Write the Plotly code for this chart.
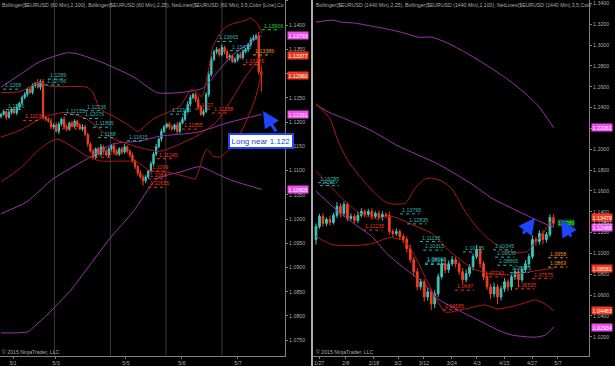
import plotly.graph_objects as go

W, H = 615, 366
FONT = "Liberation Sans"

# ---------------- LEFT PANEL (60 Min) ----------------
left_first_open = 1.1212
left_close = [1.1216, 1.1222, 1.1210, 1.1220, 1.1227, 1.1219, 1.1231, 1.1239,
              1.1251, 1.1257, 1.1268, 1.1261, 1.1276, 1.1280, 1.1272, 1.1284,
              1.1210, 1.1206,
              1.1202, 1.1190, 1.1194, 1.1181, 1.1196, 1.1206, 1.1190, 1.1186, 1.1198, 1.1192, 1.1202, 1.1194, 1.1186, 1.1190,
              1.1175, 1.1155, 1.1140, 1.1128, 1.1145, 1.1134,
              1.1149, 1.1140, 1.1132, 1.1145, 1.1151, 1.1140, 1.1134, 1.1145, 1.1138, 1.1149, 1.1140, 1.1132,
              1.1120, 1.1108, 1.1095, 1.1087,
              1.1079, 1.1087, 1.1099,
              1.1114, 1.1134, 1.1149, 1.1165, 1.1181, 1.1190, 1.1196,
              1.1190, 1.1186, 1.1194, 1.1181, 1.1198, 1.1206,
              1.1222, 1.1237, 1.1251, 1.1257, 1.1247,
              1.1231, 1.1216, 1.1222,
              1.1257, 1.1298, 1.1329, 1.1345,
              1.1350, 1.1339, 1.1354, 1.1345, 1.1333, 1.1337, 1.1325, 1.1329, 1.1339, 1.1333, 1.1345, 1.1350,
              1.1360, 1.1370, 1.1374, 1.1378,
              1.1304, 1.1296]
left_up_wick = [3, 4, 2, 5, 3, 4, 6, 3, 4, 5, 3, 6, 4, 3, 9, 4, 5, 3, 4, 6, 3, 5, 4, 3, 6, 4, 3, 5, 4, 3,
                4, 6, 5, 3, 4, 5, 3, 4, 6, 3, 5, 4, 3, 4, 5, 3, 4, 6, 3, 4,
                5, 3, 4, 6, 5, 4, 3, 5, 4, 6, 3, 5, 4, 3, 4, 5, 3, 6, 4, 5,
                4, 6, 5, 3, 4, 6, 5, 4, 5, 8, 6, 4, 5, 3, 6, 4, 5, 4, 3, 5,
                4, 6, 5, 3, 4, 5, 6, 4, 8, 11]
left_dn_wick = [4, 3, 5, 3, 4, 3, 5, 4, 3, 4, 5, 3, 4, 5, 3, 6, 5, 4, 3, 5, 4, 3, 6, 4, 3, 5, 4, 3, 4, 5,
                3, 5, 4, 6, 3, 5, 4, 3, 5, 4, 3, 5, 4, 6, 3, 4, 5, 3, 4, 5,
                4, 5, 6, 4, 10, 5, 4, 3, 5, 4, 3, 5, 4, 3, 5, 4, 3, 5, 4, 3,
                4, 3, 5, 4, 6, 5, 3, 4, 3, 5, 4, 3, 5, 4, 3, 5, 4, 6, 3, 4,
                5, 3, 4, 3, 5, 4, 3, 5, 6, 33]

# Bollinger (60 Min, 2, 25) - dark red
l_bb25_up_x = [0, 7.2, 14.8, 18.6, 32.7, 35.0, 37.6, 41.4, 47.9, 52.1, 57.8, 68.1, 72.6, 76.4, 78.7, 80.6, 84.4, 87.1, 93.5, 94.7, 97.3, 99.2]
l_bb25_up_y = [1.1261, 1.1263, 1.1282, 1.1274, 1.1272, 1.1261, 1.1227, 1.1216, 1.1196, 1.1181, 1.1206, 1.1233, 1.1268, 1.1253, 1.1302, 1.1356, 1.1391, 1.1401, 1.1411, 1.1415, 1.1405, 1.1384]
l_bb25_mid_x = [0, 7.2, 16.0, 24.3, 32.7, 41.4, 51.7, 60.5, 68.1, 75.7, 82.1, 87.1, 92.8, 99.2]
l_bb25_mid_y = [1.1169, 1.1183, 1.1210, 1.1220, 1.1206, 1.1169, 1.1149, 1.1140, 1.1155, 1.1175, 1.1202, 1.1241, 1.1292, 1.1338]
l_bb25_lo_x = [0, 7.2, 14.8, 21.3, 32.7, 37.6, 51.7, 56.7, 63.1, 70.7, 73.8, 76.8, 78.3, 80.6, 83.3, 88.2, 92.8, 96.6, 99.2]
l_bb25_lo_y = [1.1077, 1.1104, 1.1145, 1.1165, 1.1130, 1.1120, 1.1118, 1.1099, 1.1097, 1.1087, 1.1083, 1.1128, 1.1145, 1.1130, 1.1128, 1.1151, 1.1196, 1.1247, 1.1304]
# Bollinger (60 Min, 2, 100) - purple
l_bb100_up_x = [0, 7.2, 14.8, 25.1, 28.9, 37.6, 50.2, 59.3, 68.1, 76.8, 82.1, 88.2, 99.2]
l_bb100_up_y = [1.1272, 1.1298, 1.1325, 1.1343, 1.1341, 1.1325, 1.1294, 1.1261, 1.1261, 1.1270, 1.1302, 1.1339, 1.1379]
l_bb100_mid_x = [0, 9.9, 19.8, 32.7, 42.6, 52.9, 60.5, 74.5, 87.1, 99.2]
l_bb100_mid_y = [1.1011, 1.1036, 1.1083, 1.1124, 1.1155, 1.1161, 1.1171, 1.1179, 1.1200, 1.1216]
l_bb100_lo_x = [0, 10.1, 12.2, 17.5, 21.3, 26.2, 33.8, 41.4, 50.2, 59.3, 68.1, 75.7, 82.1, 88.2, 99.2]
l_bb100_lo_y = [1.0765, 1.0767, 1.0776, 1.0802, 1.0823, 1.0851, 1.0905, 1.0960, 1.1015, 1.1083, 1.1097, 1.1108, 1.1093, 1.1079, 1.1061]

left_tick_pos = [4.6, 20.9, 47.5, 68.8, 90.1]
left_tick_text = ["5/1", "5/3", "5/5", "5/6", "5/7"]
left_session_lines = [20.3, 41.6, 62.7, 84.0]
left_x_range = [-0.38, 108.0]
left_y_range = [1.0718, 1.1452]
left_y_ticks = [1.075, 1.080, 1.085, 1.090, 1.095, 1.100, 1.105, 1.110, 1.115, 1.120, 1.125, 1.130, 1.135, 1.140, 1.145]

# NetLines labels: (start bar, text, colour key)
left_labels = [(0.8, "1.1268", "c"), (1.9, "1.1226", "c"), (17.9, "1.1289", "c"), (16.7, "1.12766", "c"),
               (24.0, "1.12155", "c"), (31.9, "1.12236", "c"), (31.2, "1.12076", "c"), (35.0, "1.11895", "c"),
               (36.9, "1.1168", "c"), (47.9, "1.11615", "c"), (64.3, "1.12165", "c"), (82.1, "1.13665", "c"),
               (87.1, "1.13475", "c"), (99.2, "1.13906", "g"),
               (8.4, "1.12035", "r"), (23.2, "1.1186", "r"), (35.7, "1.11275", "r"), (59.3, "1.11245", "r"),
               (56.7, "1.1099", "r"), (55.9, "1.1083", "r"), (55.9, "1.10655", "r"), (68.8, "1.11855", "r"),
               (73.8, "1.1227", "r"), (80.2, "1.12188", "r"), (92.0, "1.13185", "r"), (95.8, "1.13386", "o")]
left_axis_boxes = [("1.13793", "p"), ("1.13377", "r"), ("1.12960", "r"), ("1.12161", "p"), ("1.10605", "p")]

# ---------------- RIGHT PANEL (1440 Min) ----------------
right_first_open = 1.1133
right_close = [1.1258, 1.1355, 1.1288, 1.1326, 1.1297, 1.1365, 1.1452, 1.1384, 1.1471, 1.1336,
               1.1355, 1.1316, 1.1365, 1.1403, 1.1374, 1.1403, 1.1355, 1.1384, 1.1345, 1.1374,
               1.1365, 1.1210, 1.1191, 1.1210, 1.1162, 1.1133, 1.1046, 1.0940, 1.0824, 1.0679,
               1.0727, 1.0582, 1.0631, 1.0515, 1.0611, 1.0776, 1.0901, 1.0843, 1.0901, 1.0940,
               1.0901, 1.0824, 1.0747, 1.0805, 1.0872, 1.0969, 1.1036, 1.0901, 1.0776, 1.0679,
               1.0611, 1.0679, 1.0582, 1.0660, 1.0727, 1.0679, 1.0776, 1.0824, 1.0747, 1.0843,
               1.0901, 1.0969, 1.1133, 1.1114, 1.1191, 1.1133, 1.1181, 1.1345, 1.1289]
right_up_wick = [30, 25, 30, 20, 35, 25, 40, 30, 25, 20, 30, 25, 35, 30, 20, 25, 30, 20, 25, 30,
                 20, 35, 25, 30, 20, 25, 30, 40, 25, 35, 30, 25, 40, 30, 35, 30, 45, 25, 30, 35,
                 30, 25, 35, 40, 25, 30, 45, 30, 25, 35, 30, 40, 25, 30, 35, 25, 30, 40, 25, 30,
                 35, 30, 40, 25, 30, 35, 25, 30, 30]
right_dn_wick = [50, 20, 30, 25, 30, 20, 25, 35, 30, 25, 20, 30, 25, 20, 30, 25, 30, 20, 25, 30,
                 25, 30, 35, 25, 30, 35, 40, 30, 45, 35, 30, 45, 35, 60, 40, 30, 25, 35, 30, 25,
                 35, 30, 40, 25, 30, 35, 25, 40, 35, 30, 45, 30, 70, 35, 30, 40, 35, 30, 70, 25,
                 30, 35, 25, 40, 30, 45, 30, 25, 35]

r_bb25_up_x = [0, 4.0, 6.3, 9.2, 13.2, 16.9, 20.6, 25.5, 28.4, 31.2, 33.2, 36.1, 39.0, 42.7, 46.4, 50.4, 55.6, 60.5, 62.2, 64.8, 68.1]
r_bb25_up_y = [1.2437, 1.2292, 1.2080, 1.1886, 1.1713, 1.1577, 1.1481, 1.1481, 1.1626, 1.1713, 1.1722, 1.1693, 1.1616, 1.1403, 1.1239, 1.1114, 1.1017, 1.1017, 1.1085, 1.1181, 1.1348]
r_bb25_mid_x = [0, 4.0, 8.3, 12.6, 16.9, 21.8, 27.5, 33.2, 38.4, 45.0, 49.9, 55.6, 61.3, 68.1]
r_bb25_mid_y = [1.1790, 1.1645, 1.1500, 1.1384, 1.1336, 1.1355, 1.1278, 1.1191, 1.1017, 1.0853, 1.0805, 1.0795, 1.0824, 1.0858]
r_bb25_lo_x = [0, 4.6, 11.2, 16.0, 21.2, 25.5, 28.4, 31.2, 34.1, 37.0, 42.7, 48.4, 52.1, 57.9, 62.8, 65.6, 68.1]
r_bb25_lo_y = [1.1162, 1.1085, 1.1075, 1.1094, 1.1152, 1.1114, 1.0969, 1.0776, 1.0582, 1.0437, 1.0466, 1.0505, 1.0466, 1.0505, 1.0553, 1.0515, 1.0448]
r_bb100_up_x = [0, 4.6, 7.4, 11.2, 16.0, 20.6, 25.5, 29.2, 33.2, 37.8, 42.7, 47.6, 54.2, 59.0, 63.6, 68.1]
r_bb100_up_y = [1.3219, 1.3239, 1.3219, 1.3210, 1.3181, 1.3152, 1.3113, 1.3075, 1.3075, 1.3017, 1.2930, 1.2833, 1.2688, 1.2563, 1.2418, 1.2206]
r_bb100_mid_x = [0, 4.0, 8.3, 16.0, 23.5, 35.0, 44.7, 50.4, 56.2, 62.8, 68.1]
r_bb100_mid_y = [1.2427, 1.2350, 1.2292, 1.2176, 1.2031, 1.1857, 1.1664, 1.1529, 1.1432, 1.1326, 1.1249]
r_bb100_lo_x = [0, 6.3, 11.2, 16.0, 20.6, 25.5, 30.4, 35.0, 41.8, 47.6, 52.1, 56.2, 62.8, 65.6, 68.1]
r_bb100_lo_y = [1.1597, 1.1403, 1.1278, 1.1162, 1.0988, 1.0853, 1.0727, 1.0563, 1.0437, 1.0341, 1.0264, 1.0215, 1.0196, 1.0215, 1.0293]

right_tick_pos = [0.9, 8.5, 16.6, 23.5, 30.9, 38.9, 46.1, 53.9, 61.9, 69.3]
right_tick_text = ["1/27", "2/8", "2/18", "3/2", "3/12", "3/24", "4/3", "4/15", "4/27", "5/7"]
right_x_range = [-0.86, 78.2]
right_y_range = [1.0018, 1.3432]
right_y_ticks = [1.02, 1.04, 1.06, 1.08, 1.10, 1.12, 1.14, 1.16, 1.18, 1.20, 1.22, 1.24, 1.26, 1.28, 1.30, 1.32, 1.34]

right_labels = [(0.6, "1.16785", "c"), (1.1, "1.165", "c"), (24.1, "1.13795", "c"), (13.5, "1.12235", "r"),
                (26.1, "1.12835", "c"), (29.8, "1.11135", "c"), (30.7, "1.10315", "c"), (31.2, "1.09066", "c"),
                (31.2, "1.08944", "c"), (42.1, "1.10135", "c"), (50.7, "1.10345", "c"), (51.3, "1.09636", "c"),
                (51.9, "1.08865", "c"), (55.6, "1.08175", "c"),
                (39.8, "1.0647", "r"), (36.4, "1.04585", "r"), (57.0, "1.06595", "r"), (61.9, "1.07575", "r"),
                (47.9, "1.07743", "r"), (66.5, "1.0958", "o"), (66.5, "1.0869", "o")]
right_axis_boxes = [("1.22061", "p"), ("1.13479", "r"), ("1.12488", "p"), ("1.08581", "r"), ("1.04483", "r"), ("1.02934", "p")]
right_last_tag = "1.1289"

# ---------------- styles ----------------
UP = "#3cc6bf"
DN = "#f2401e"
BB25 = "#b3161a"
BB100 = "#a12fb0"
GRAY = "#aaaaaa"
LABEL_COL = {"c": "#2fb3ab", "r": "#f0341c", "o": "#f09018", "g": "#28d428"}
BOX_COL = {"p": "#f04cf0", "r": "#f0381c"}

L_DOM = [0, 285 / W]
R_DOM = [313 / W, 589 / W]
Y_DOM = [10.3 / H, 1]


def ohlc(first_open, closes, up, dn):
    opens = [first_open] + closes[:-1]
    highs = [max(o, c) + u * 0.0001 for o, c, u in zip(opens, closes, up)]
    lows = [min(o, c) - d * 0.0001 for o, c, d in zip(opens, closes, dn)]
    return opens, highs, lows


fig = go.Figure()


def add_bands(xa, ya, bands):
    for xs, ys, col in bands:
        fig.add_trace(go.Scatter(x=xs, y=ys, mode="lines", line=dict(color=col, width=1, shape="spline", smoothing=0.6),
                                 xaxis=xa, yaxis=ya, hoverinfo="skip", showlegend=False))


add_bands("x", "y", [(l_bb100_up_x, l_bb100_up_y, BB100), (l_bb100_mid_x, l_bb100_mid_y, BB100),
                     (l_bb100_lo_x, l_bb100_lo_y, BB100), (l_bb25_up_x, l_bb25_up_y, BB25),
                     (l_bb25_mid_x, l_bb25_mid_y, BB25), (l_bb25_lo_x, l_bb25_lo_y, BB25)])
add_bands("x2", "y2", [(r_bb100_up_x, r_bb100_up_y, BB100), (r_bb100_mid_x, r_bb100_mid_y, BB100),
                       (r_bb100_lo_x, r_bb100_lo_y, BB100), (r_bb25_up_x, r_bb25_up_y, BB25),
                       (r_bb25_mid_x, r_bb25_mid_y, BB25), (r_bb25_lo_x, r_bb25_lo_y, BB25)])

lo, lh, ll = ohlc(left_first_open, left_close, left_up_wick, left_dn_wick)
fig.add_trace(go.Candlestick(x=list(range(len(left_close))), open=lo, high=lh, low=ll, close=left_close,
                             increasing=dict(line=dict(color=UP, width=1), fillcolor=UP),
                             decreasing=dict(line=dict(color=DN, width=1), fillcolor=DN),
                             whiskerwidth=0, xaxis="x", yaxis="y", showlegend=False, hoverinfo="skip"))
ro, rh, rl = ohlc(right_first_open, right_close, right_up_wick, right_dn_wick)
fig.add_trace(go.Candlestick(x=list(range(len(right_close))), open=ro, high=rh, low=rl, close=right_close,
                             increasing=dict(line=dict(color=UP, width=1), fillcolor=UP),
                             decreasing=dict(line=dict(color=DN, width=1), fillcolor=DN),
                             whiskerwidth=0, xaxis="x2", yaxis="y2", showlegend=False, hoverinfo="skip"))

annotations = []


def add_netlines(labels, xa, ya, seg_len):
    groups = {}
    for bar, txt, ck in labels:
        p = float(txt)
        g = groups.setdefault(ck, ([], []))
        g[0].extend([bar, bar + seg_len, None])
        g[1].extend([p, p, None])
        annotations.append(dict(x=bar, y=p, xref=xa, yref=ya, text=txt, showarrow=False, xanchor="left",
                                yanchor="bottom", yshift=-1, font=dict(size=5.3, color=LABEL_COL[ck], family=FONT)))
    for ck, (xs, ys) in groups.items():
        fig.add_trace(go.Scatter(x=xs, y=ys, mode="lines", line=dict(color=LABEL_COL[ck], width=1, dash="dot"),
                                 xaxis=xa, yaxis=ya, hoverinfo="skip", showlegend=False))


add_netlines(left_labels, "x", "y", 7)
add_netlines(right_labels, "x2", "y2", 5.5)

# green tag at last daily bar
annotations.append(dict(x=len(right_close), y=float(right_last_tag), xref="x2", yref="y2", text=right_last_tag,
                        showarrow=False, xanchor="left", yanchor="middle", bgcolor="#0b5a10", borderpad=0,
                        font=dict(size=5.3, color="#3cf03c", family=FONT)))

# axis boxes
for txt, ck in left_axis_boxes:
    annotations.append(dict(x=287 / W, y=float(txt), xref="paper", yref="y", text=txt, showarrow=False,
                            xanchor="left", yanchor="middle", bgcolor=BOX_COL[ck], borderpad=0.6,
                            font=dict(size=5.3, color="white", family=FONT)))
for txt, ck in right_axis_boxes:
    annotations.append(dict(x=591 / W, y=float(txt), xref="paper", yref="y2", text=txt, showarrow=False,
                            xanchor="left", yanchor="middle", bgcolor=BOX_COL[ck], borderpad=0.6,
                            font=dict(size=5.3, color="white", family=FONT)))
annotations.append(dict(x=591 / W, y=1.12891, xref="paper", yref="y2", text="1.12891", showarrow=False,
                        xanchor="left", yanchor="middle", font=dict(size=5.3, color="#cfcfcf", family=FONT)))

# headers
annotations.append(dict(x=0, y=1, xref="paper", yref="paper", xanchor="left", yanchor="top", showarrow=False,
                        text="Bollinger($EURUSD (60 Min),2,100), Bollinger($EURUSD (60 Min),2,25), NetLines($EURUSD (60 Min),3,5,Color [Line],Co",
                        font=dict(size=5.2, color=GRAY, family=FONT)))
annotations.append(dict(x=314 / W, y=1, xref="paper", yref="paper", xanchor="left", yanchor="top", showarrow=False,
                        text="Bollinger($EURUSD (1440 Min),2,25), Bollinger($EURUSD (1440 Min),2,100), NetLines($EURUSD (1440 Min),3,5,Colo",
                        font=dict(size=5.2, color=GRAY, family=FONT)))
# copyright
for xp in [0, 314 / W]:
    annotations.append(dict(x=xp, y=1 - 352 / H, xref="paper", yref="paper", xanchor="left", yanchor="middle",
                            showarrow=False, text="© 2015 NinjaTrader, LLC", font=dict(size=5.2, color=GRAY, family=FONT)))

# callout and arrows
annotations.append(dict(x=261 / W, y=1 - 140.5 / H, xref="paper", yref="paper", text="Long near 1.122",
                        showarrow=False, bgcolor="white", bordercolor="#1f45ff", borderwidth=2, borderpad=1.5,
                        font=dict(size=8, color="#1d3fd8", family=FONT)))
for tip, tail in [((263, 111), (277, 133)), ((535, 218), (522, 235)), ((561, 220), (572, 238))]:
    annotations.append(dict(x=tip[0] / W, y=1 - tip[1] / H, xref="paper", yref="paper", text="",
                            showarrow=True, ax=tail[0] - tip[0], ay=tail[1] - tip[1], arrowcolor="#1f45ff",
                            arrowwidth=3, arrowhead=2, arrowsize=1.1))

shapes = []
for s in left_session_lines:
    shapes.append(dict(type="line", xref="x", yref="paper", x0=s, x1=s, y0=Y_DOM[0], y1=1,
                       line=dict(color="#3a3a3a", width=1), layer="below"))
shapes.append(dict(type="line", xref="paper", yref="paper", x0=312 / W, x1=312 / W, y0=0, y1=1,
                   line=dict(color="#e6e6e6", width=1.5)))

axis_common = dict(showgrid=False, zeroline=False, showline=True, linecolor="#808080", linewidth=1,
                   ticks="outside", ticklen=2, tickcolor="#808080", tickfont=dict(size=5.3, color=GRAY, family=FONT))

fig.update_layout(
    width=W, height=H, margin=dict(l=0, r=0, t=0, b=0),
    paper_bgcolor="black", plot_bgcolor="black", showlegend=False,
    xaxis=dict(domain=L_DOM, range=left_x_range, anchor="y", tickvals=left_tick_pos, ticktext=left_tick_text,
               rangeslider=dict(visible=False), **axis_common),
    yaxis=dict(domain=Y_DOM, range=left_y_range, anchor="x", side="right", tickvals=left_y_ticks,
               tickformat=".4f", **axis_common),
    xaxis2=dict(domain=R_DOM, range=right_x_range, anchor="y2", tickvals=right_tick_pos, ticktext=right_tick_text,
                rangeslider=dict(visible=False), **axis_common),
    yaxis2=dict(domain=Y_DOM, range=right_y_range, anchor="x2", side="right", tickvals=right_y_ticks,
                tickformat=".4f", **axis_common),
    annotations=annotations, shapes=shapes,
)

fig.write_html("out.html")
